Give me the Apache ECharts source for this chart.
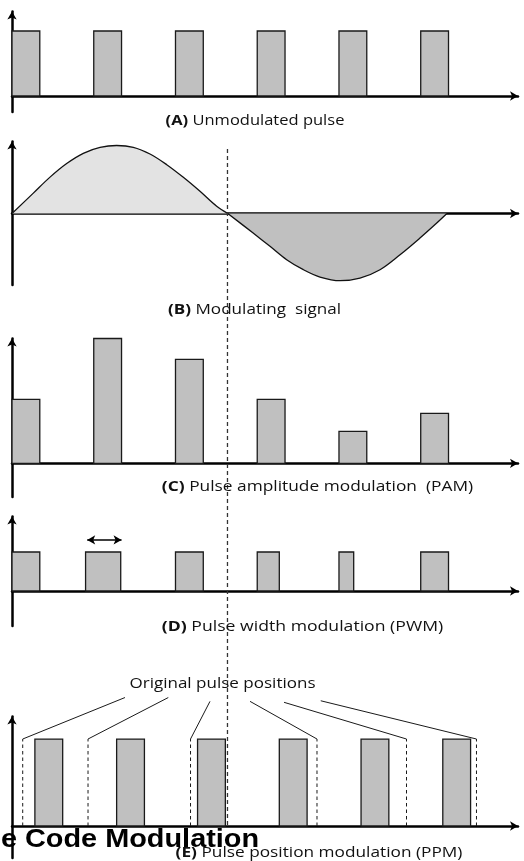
<!DOCTYPE html>
<html><head><meta charset="utf-8">
<script src="https://cdn.jsdelivr.net/npm/echarts@6/dist/echarts.min.js"></script>
<style>html,body{margin:0;padding:0;background:#fff}#c{width:524px;height:861px}</style>
</head><body><div id="c"></div>
<script>
// ---------- data (time in units where one pulse period = 10) ----------
const unmodStarts = [0, 10, 20, 30, 40, 50];
const unmodWidths = [3.4, 3.4, 3.4, 3.4, 3.4, 3.4];
const unmodHeights = [1, 1, 1, 1, 1, 1];

const sinePositive = [[0,0],[2.61,0.30],[4.65,0.535],[6.69,0.735],[8.72,0.885],[10.77,0.972],[12.8,1.0],[14.84,0.974],[16.88,0.875],[18.93,0.718],[20.96,0.532],[23.0,0.326],[25.04,0.106],[26.4,0]];
const sineNegative = [[26.4,0],[29.5,-0.287],[31.56,-0.482],[33.6,-0.679],[35.64,-0.826],[37.68,-0.934],[40.13,-0.988],[42.57,-0.949],[45.02,-0.826],[47.47,-0.606],[49.91,-0.36],[51.96,-0.14],[53.2,0]];

const pamStarts = [0, 10, 20, 30, 40, 50];
const pamWidths = [3.4, 3.4, 3.4, 3.4, 3.4, 3.4];
const pamHeights = [2.0, 3.9, 3.25, 2.0, 1.0, 1.56];

const pwmStarts = [0, 9, 20, 30, 40, 50];
const pwmWidths = [3.4, 4.3, 3.4, 2.7, 1.8, 3.4];
const pwmHeights = [1, 1, 1, 1, 1, 1];
const pwmArrow = [[9.2, 1.31], [13.4, 1.31]];

const ppmStarts = [2.8, 12.8, 22.7, 32.7, 42.7, 52.7];
const ppmWidths = [3.4, 3.4, 3.4, 3.4, 3.4, 3.4];
const ppmHeights = [1, 1, 1, 1, 1, 1];
const ppmOriginal = [1.31, 9.3, 21.84, 37.31, 48.26, 56.82];
const leaderStartX = [13.82, 19.12, 24.22, 29.12, 33.28, 37.77];
const leaderStartY = [1.477, 1.477, 1.433, 1.433, 1.422, 1.44];

const zeroCrossing = 26.36;

const labelA = '{b|(A)} Unmodulated pulse';
const labelB = '{b|(B)} Modulating  signal';
const labelC = '{b|(C)} Pulse amplitude modulation  (PAM)';
const labelD = '{b|(D)} Pulse width modulation (PWM)';
const labelE = '{b|(E)} Pulse position modulation (PPM)';
const labelOrig = 'Original pulse positions';
const titleText = 'Pulse Code Modulation';

// ---------- layout ----------
const X_MAX = 61.9;
const panels = [
  {top: 11.5, bottom: 749, min: -0.246, max: 1.3},
  {top: 141.5, bottom: 576, min: -1.051, max: 1.059},
  {top: 338.5, bottom: 364, min: -1.053, max: 3.9},
  {top: 516.5, bottom: 235, min: -0.897, max: 1.91},
  {top: 716.5, bottom: 3, min: -0.368, max: 1.259}
];
const axisLine = {show: true, onZero: true, symbol: ['none', 'arrow'], symbolSize: [7, 8], lineStyle: {color: '#000', width: 2.5}};
const grids = [], xAxes = [], yAxes = [];
panels.forEach((p, i) => {
  grids.push({left: 12, right: 6, top: p.top, bottom: p.bottom});
  xAxes.push({gridIndex: i, type: 'value', min: 0, max: X_MAX, axisLine: axisLine, axisTick: {show: false}, axisLabel: {show: false}, splitLine: {show: false}});
  yAxes.push({gridIndex: i, type: 'value', min: p.min, max: p.max, axisLine: axisLine, axisTick: {show: false}, axisLabel: {show: false}, splitLine: {show: false}});
});
// overlay grid for the long dashed reference line
grids.push({left: 12, right: 6, top: 146, bottom: 36});
xAxes.push({gridIndex: 5, type: 'value', min: 0, max: X_MAX, show: false});
yAxes.push({gridIndex: 5, type: 'value', min: 0, max: 1, show: false});

function pulses(starts, widths, heights) {
  return starts.map((s, i) => [s, s + widths[i], heights[i]]);
}
function rectItem(params, api) {
  const p0 = api.coord([api.value(0), api.value(2)]);
  const p1 = api.coord([api.value(1), 0]);
  return {type: 'rect', shape: {x: p0[0], y: p0[1], width: p1[0] - p0[0], height: p1[1] - p0[1]},
    style: {fill: '#c0c0c0', stroke: '#1a1a1a', lineWidth: 1.3}};
}
function pulseSeries(idx, data) {
  return {type: 'custom', xAxisIndex: idx, yAxisIndex: idx, renderItem: rectItem, data: data, encode: {x: [0, 1], y: 2}, z: 3};
}

const series = [
  pulseSeries(0, pulses(unmodStarts, unmodWidths, unmodHeights)),
  {type: 'line', xAxisIndex: 1, yAxisIndex: 1, data: sinePositive, smooth: 0.35, symbol: 'none',
    lineStyle: {color: '#111', width: 1.3}, areaStyle: {color: '#e3e3e3', opacity: 1}, z: 3},
  {type: 'line', xAxisIndex: 1, yAxisIndex: 1, data: sineNegative, smooth: 0.35, symbol: 'none',
    lineStyle: {color: '#111', width: 1.3}, areaStyle: {color: '#c0c0c0', opacity: 1}, z: 3},
  pulseSeries(2, pulses(pamStarts, pamWidths, pamHeights)),
  pulseSeries(3, pulses(pwmStarts, pwmWidths, pwmHeights)),
  {type: 'line', xAxisIndex: 3, yAxisIndex: 3, data: [], symbol: 'none',
    markLine: {silent: true, symbol: ['arrow', 'arrow'], symbolSize: [7, 8], label: {show: false},
      lineStyle: {color: '#000', width: 1.5, type: 'solid'},
      data: [[{coord: pwmArrow[0]}, {coord: pwmArrow[1]}]]}},
  pulseSeries(4, pulses(ppmStarts, ppmWidths, ppmHeights)),
  {type: 'custom', xAxisIndex: 4, yAxisIndex: 4, data: ppmOriginal.map(v => [v, 1]), encode: {x: 0, y: 1}, z: 3,
    renderItem: (params, api) => {
      const a = api.coord([api.value(0), 0]), b = api.coord([api.value(0), api.value(1)]);
      return {type: 'line', shape: {x1: a[0], y1: a[1], x2: b[0], y2: b[1]}, style: {stroke: '#1a1a1a', lineWidth: 1, lineDash: [3.5, 3]}};
    }},
  {type: 'custom', xAxisIndex: 4, yAxisIndex: 4, clip: false,
    data: leaderStartX.map((x, i) => [x, leaderStartY[i], ppmOriginal[i], 1]), encode: {x: [0, 2], y: [1, 3]}, z: 3,
    renderItem: (params, api) => {
      const a = api.coord([api.value(0), api.value(1)]), b = api.coord([api.value(2), api.value(3)]);
      return {type: 'line', shape: {x1: a[0], y1: a[1], x2: b[0], y2: b[1]}, style: {stroke: '#1a1a1a', lineWidth: 1}};
    }},
  {type: 'line', xAxisIndex: 5, yAxisIndex: 5, data: [[zeroCrossing, 0], [zeroCrossing, 1]], symbol: 'none',
    lineStyle: {color: '#333', width: 1.3, type: [4, 3]}, z: 4}
];

const FONT = '"Open Sans", sans-serif';
const rich = {b: {fontFamily: FONT, fontSize: 15, fontWeight: 'bold', fill: '#111'}};
function label(text, x, y, sx) {
  return {type: 'text', x: x, y: y, z: 50, scaleX: sx,
    style: {text: text, fontFamily: FONT, fontSize: 15, fill: '#111', align: 'center', verticalAlign: 'middle', rich: rich}};
}
const graphic = [
  label(labelA, 255, 121, 1.10),
  label(labelB, 254.5, 310, 1.14),
  label(labelC, 317.5, 487, 1.155),
  label(labelD, 302.5, 627, 1.175),
  label(labelE, 319, 853, 1.15),
  label(labelOrig, 222.5, 684, 1.135),
  {type: 'text', x: -60, y: 840.3, z: 100, scaleX: 1.11,
    style: {text: titleText, fontFamily: '"Liberation Sans", Arial, sans-serif', fontSize: 26, fontWeight: 'bold', fill: '#000', align: 'left', verticalAlign: 'middle'}}
];

const chart = echarts.init(document.getElementById('c'), null, {renderer: 'canvas'});
chart.setOption({animation: false, backgroundColor: '#fff', grid: grids, xAxis: xAxes, yAxis: yAxes, series: series, graphic: graphic});
</script></body></html>
